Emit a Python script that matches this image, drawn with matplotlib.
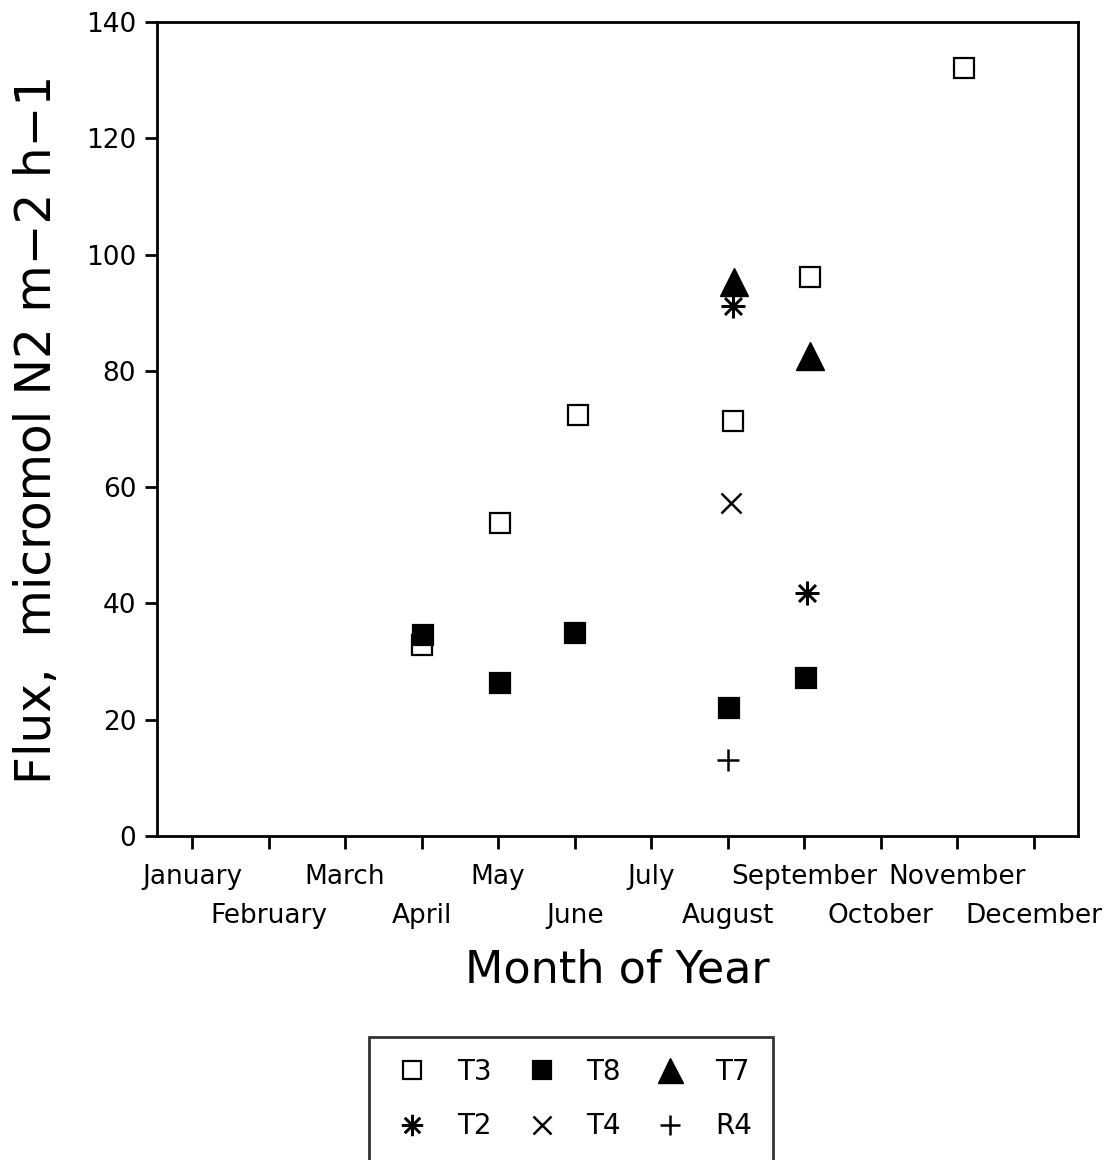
import matplotlib
matplotlib.use('Agg')
import matplotlib.pyplot as plt

months = ['January', 'February', 'March', 'April', 'May', 'June', 'July',
          'August', 'September', 'October', 'November', 'December']

# month positions (1 = January) and flux values
t3_x = [4.0, 5.02, 6.04, 8.07, 9.08, 11.09]
t3_y = [32.8, 53.8, 72.4, 71.4, 96.1, 132.1]
t8_x = [4.02, 5.02, 6.01, 8.02, 9.02]
t8_y = [34.6, 26.3, 34.9, 22.0, 27.2]
t7_x = [8.08, 9.08]
t7_y = [95.3, 82.6]
t2_x = [8.07, 9.04]
t2_y = [91.2, 41.8]
t4_x = [8.04]
t4_y = [57.3]
r4_x = [8.01]
r4_y = [13.1]

plt.rcParams['font.family'] = 'DejaVu Sans'

fig = plt.figure(figsize=(11.07, 11.6), dpi=100)
ax = fig.add_axes([157/1107, 1 - 836/1160, (1078-157)/1107, (836-22)/1160])

ms = 14
h_t3, = ax.plot(t3_x, t3_y, 's', ms=ms, mfc='white', mec='black', mew=1.6, label='T3')
h_t8, = ax.plot(t8_x, t8_y, 's', ms=ms, mfc='black', mec='black', mew=1.6, label='T8')
h_t7, = ax.plot(t7_x, t7_y, '^', ms=20, mfc='black', mec='black', label='T7')
h_t2, = ax.plot(t2_x, t2_y, marker=(8, 2, 0), ls='none', ms=17, mec='black', mew=1.8, label='T2')
h_t4, = ax.plot(t4_x, t4_y, 'x', ms=15, mec='black', mew=1.8, label='T4')
h_r4, = ax.plot(r4_x, r4_y, '+', ms=16, mec='black', mew=1.8, label='R4')

ax.set_xlim(0.54, 12.58)
ax.set_ylim(0, 140)
ax.set_yticks(range(0, 141, 20))
# odd months on the first label row, even months on the second
ax.set_xticks(range(1, 13, 2))
ax.set_xticklabels(months[0::2])
ax.set_xticks(range(2, 13, 2), minor=True)
ax.set_xticklabels(months[1::2], minor=True)

for s in ax.spines.values():
    s.set_linewidth(2)
ax.tick_params(axis='both', which='both', direction='out', width=2, length=9,
               labelsize=19, pad=6)
ax.tick_params(axis='x', which='major', pad=11)
ax.tick_params(axis='x', which='minor', pad=39)

ax.set_ylabel('Flux,  micromol N2 m\u22122 h\u22121', fontsize=35, labelpad=18)
ax.set_xlabel('Month of Year', fontsize=32, labelpad=14)

handles = [h_t3, h_t2, h_t8, h_t4, h_t7, h_r4]
leg = fig.legend(handles=handles, labels=[h.get_label() for h in handles],
                 ncol=3, loc='upper center', bbox_to_anchor=(571/1107, 1 - 1037/1160),
                 fontsize=20, frameon=True, fancybox=False, edgecolor='black',
                 handlelength=1.6, handletextpad=0.8, columnspacing=1.0,
                 labelspacing=0.95, borderpad=0.75, borderaxespad=0, markerscale=0.9)
leg.get_frame().set_linewidth(2)

fig.savefig('out.png', dpi=100)
